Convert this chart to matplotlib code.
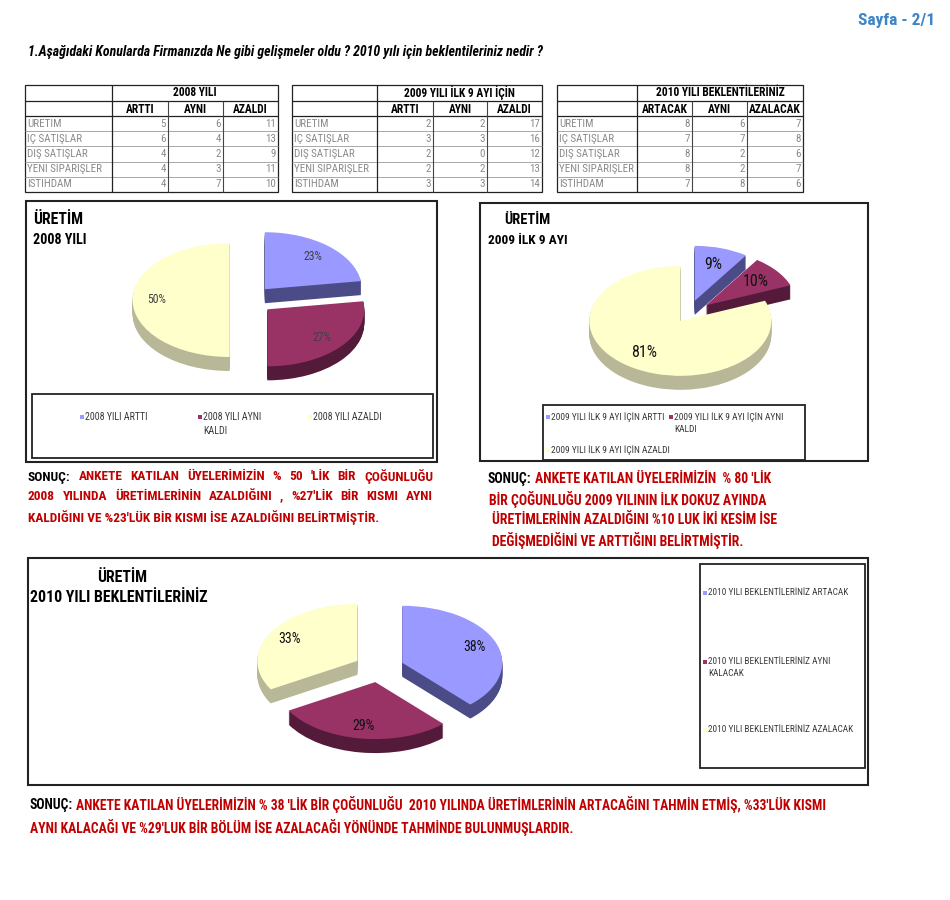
import numpy as np
import matplotlib
matplotlib.use("Agg")
import matplotlib.pyplot as plt
from matplotlib import font_manager
from matplotlib.patches import Rectangle

topics = ["URETIM", "IÇ SATIŞLAR", "DIŞ SATIŞLAR", "YENI SIPARIŞLER", "ISTIHDAM"]
cols_2008 = ["ARTTI", "AYNI", "AZALDI"]
vals_2008 = [[5, 6, 11], [6, 4, 13], [4, 2, 9], [4, 3, 11], [4, 7, 10]]
cols_2009 = ["ARTTI", "AYNI", "AZALDI"]
vals_2009 = [[2, 2, 17], [3, 3, 16], [2, 0, 12], [2, 2, 13], [3, 3, 14]]
cols_2010 = ["ARTACAK", "AYNI", "AZALACAK"]
vals_2010 = [[8, 6, 7], [7, 7, 8], [8, 2, 6], [8, 2, 7], [7, 8, 6]]

pct_2008 = ["23%", "27%", "50%"]
pct_2009 = ["9%", "10%", "81%"]
pct_2010 = ["38%", "29%", "33%"]

leg_2008 = ["2008 YILI ARTTI", "2008 YILI AYNI\nKALDI", "2008 YILI AZALDI"]
leg_2009 = ["2009 YILI İLK 9 AYI İÇİN ARTTI", "2009 YILI İLK 9 AYI İÇİN AYNI\nKALDI",
            "2009 YILI İLK 9 AYI İÇİN AZALDI"]
leg_2010 = ["2010 YILI BEKLENTİLERİNİZ ARTACAK", "2010 YILI BEKLENTİLERİNİZ AYNI\nKALACAK",
            "2010 YILI BEKLENTİLERİNİZ AZALACAK"]

top_colors = ["#9999ff", "#993366", "#ffffcc"]
side_colors = ["#4b4b88", "#531a3a", "#b8b898"]
RED = "#c00000"

# pick a narrow sans if one is installed
entries = font_manager.fontManager.ttflist
names = {f.name for f in entries}
FONT, STRETCH = "Liberation Sans", "normal"
for cand in ["Liberation Sans Narrow", "Arial Narrow", "Roboto Condensed",
             "Noto Sans Condensed", "Open Sans Condensed", "Noto Sans SemiCondensed"]:
    if cand in names:
        FONT = cand
        break
else:
    for fam in ["Noto Sans", "Roboto", "Open Sans", "Liberation Sans"]:
        st = [f for f in entries if f.name == fam and f.stretch in ("condensed", "extra-condensed")
              and f.weight in (700, "bold")]
        if st:
            FONT, STRETCH = fam, st[0].stretch
            break
plt.rcParams["font.stretch"] = STRETCH

fig = plt.figure(figsize=(9.5, 9), dpi=100)
page = fig.add_axes([0, 0, 1, 1])
page.set_xlim(0, 950)
page.set_ylim(900, 0)
page.axis("off")
rend = fig.canvas.get_renderer()


def put(x, y, s, size=8, w=None, **kw):
    t = page.text(x, y, s, fontsize=size, family=FONT, stretch=STRETCH, va="center", **kw)
    if w:
        t.set_fontsize(size * w / t.get_window_extent(rend).width)
    return t


def space(size, weight="bold"):
    a = page.text(0, 0, "n n", fontsize=size, family=FONT, stretch=STRETCH, weight=weight)
    b = page.text(0, 0, "nn", fontsize=size, family=FONT, stretch=STRETCH, weight=weight)
    d = a.get_window_extent(rend).width - b.get_window_extent(rend).width
    a.remove()
    b.remove()
    return d


def seg_line(x, y, segs, size, width=None, justify=False):
    if justify:
        parts = [(wd, c) for s, c in segs for wd in s.split()]
    else:
        parts = list(segs)
    ts = [page.text(0, y, s, color=c, fontsize=size, family=FONT, stretch=STRETCH,
                    weight="bold", va="center") for s, c in parts]
    ws = [t.get_window_extent(rend).width for t in ts]
    sp = space(size)
    if width and not justify:
        k = width / (sum(ws) + sp * (len(ws) - 1))
        size *= k
        for t in ts:
            t.set_fontsize(size)
        ws = [w * k for w in ws]
        sp *= k
    if width and justify:
        sp = (width - sum(ws)) / (len(ws) - 1)
    cx = x
    for t, w in zip(ts, ws):
        t.set_x(cx)
        cx += w + sp
    return size


# ---- header ----
put(858, 20, "Sayfa - 2/1", 12, w=77, weight="bold", color="#3d85c6")
put(28, 52, "1.Aşağıdaki Konularda Firmanızda Ne gibi gelişmeler oldu ? 2010 yılı için beklentileriniz nedir ?",
    9, w=514, weight="bold", style="italic")

# ---- tables ----
probe = put(0, 0, "YENI SIPARIŞLER", 7, w=75)
tsize = probe.get_fontsize()
probe.remove()


def draw_table(edges, title, cols, vals):
    y0, y1, y2 = 85, 101, 116
    rh = 15.2
    yb = y2 + rh * len(topics)
    page.add_patch(Rectangle((edges[0], y0), edges[-1] - edges[0], yb - y0,
                             fill=False, ec="#222222", lw=0.9))
    page.hlines([y1, y2], edges[0], edges[-1], color="#222222", lw=0.9)
    page.hlines([y2 + rh * k for k in range(1, len(topics))], edges[0], edges[-1],
                color="#9a9a9a", lw=0.6)
    page.vlines(edges[1], y0, yb, color="#222222", lw=0.9)
    page.vlines(edges[2:-1], y1, yb, color="#444444", lw=0.8)
    page.text((edges[1] + edges[-1]) / 2, (y0 + y1) / 2, title, fontsize=tsize * 1.05,
              family=FONT, stretch=STRETCH, weight="bold", ha="center", va="center")
    for j, c in enumerate(cols):
        page.text((edges[j + 1] + edges[j + 2]) / 2, (y1 + y2) / 2 + 1, c, fontsize=tsize * 1.05,
                  family=FONT, stretch=STRETCH, weight="bold", ha="center", va="center")
    for i, lab in enumerate(topics):
        yc = y2 + rh * (i + 0.5)
        page.text(edges[0] + 2, yc, lab, fontsize=tsize, family=FONT, stretch=STRETCH,
                  color="#8a8a8a", va="center")
        for j, v in enumerate(vals[i]):
            page.text(edges[j + 2] - 2, yc, str(v), fontsize=tsize, family=FONT, stretch=STRETCH,
                      color="#8a8a8a", ha="right", va="center")


draw_table([25, 112, 168, 223, 278], "2008 YILI", cols_2008, vals_2008)
draw_table([292, 377, 433, 487, 542], "2009 YILI İLK 9 AYI İÇİN", cols_2009, vals_2009)
draw_table([557, 637, 692, 747, 803], "2010 YILI BEKLENTİLERİNİZ", cols_2010, vals_2010)


# ---- 3d-looking pies ----
def pie3d(cx, cy, rx, ry, depth, vals, explode, labels, lsize, lcolor, pctd):
    L = 1.7
    ax = fig.add_axes([(cx - L * rx) / 950, 1 - (cy + L * ry) / 900,
                       2 * L * rx / 950, 2 * L * ry / 900])
    d = depth / ry
    for off in np.linspace(-d, -d / depth, int(depth)):
        ax.pie(vals, explode=explode, colors=side_colors, startangle=90, counterclock=False,
               center=(0, off), wedgeprops=dict(linewidth=0))
    it = iter(labels)
    wedges, _, _ = ax.pie(vals, explode=explode, colors=top_colors, startangle=90,
                          counterclock=False, autopct=lambda p: next(it), pctdistance=pctd,
                          wedgeprops=dict(linewidth=0),
                          textprops=dict(fontsize=lsize, color=lcolor, family=FONT,
                                         stretch=STRETCH))
    ax.set_aspect("auto")
    ax.set_xlim(-L, L)
    ax.set_ylim(-L, L)
    ax.axis("off")
    return wedges


def legend_box(box, spots, labels, fit_w):
    page.add_patch(Rectangle((box[0], box[1]), box[2] - box[0], box[3] - box[1],
                             fill=False, ec="#222222", lw=1.3))
    probe = put(0, 0, labels[0].split("\n")[0], 7, w=fit_w)
    size = probe.get_fontsize()
    probe.remove()
    for (x, y), lab, col in zip(spots, labels, top_colors):
        page.add_patch(Rectangle((x - 2, y - 2.5), 4, 4, color=col, lw=0))
        page.text(x + 3, y - 5, lab, fontsize=size, family=FONT, stretch=STRETCH,
                  color="#3a3a3a", va="top", linespacing=1.45)


# chart 1
page.add_patch(Rectangle((26, 201), 411, 261, fill=False, ec="#222222", lw=1.5))
put(33, 220, "ÜRETİM", 10, w=50, weight="bold")
put(33, 240, "2008 YILI", 10, w=54, weight="bold")
pie3d(249, 300, 97, 57, 14, vals_2008[0], [0.25, 0.25, 0.2], pct_2008, 8.5, "#404040", 0.75)
legend_box((32, 394, 433, 458), [(82, 417), (200, 417), (310, 417)], leg_2008, 63)

# chart 2
page.add_patch(Rectangle((480, 203), 388, 258, fill=False, ec="#222222", lw=1.5))
put(504, 220, "ÜRETİM", 10, w=46, weight="bold")
put(488, 240, "2009 İLK 9 AYI", 10, w=79, weight="bold")
pie3d(688, 314, 91, 55, 14, vals_2009[0], [0.25, 0.25, 0.15], pct_2009, 11.5, "#111111", 0.7)
legend_box((543, 405, 805, 460), [(548, 417), (671, 417), (548, 450)], leg_2009, 114)

# chart 3
page.add_patch(Rectangle((28, 558), 840, 227, fill=False, ec="#222222", lw=1.5))
put(97, 577, "ÜRETİM", 10, w=50, weight="bold")
put(30, 597, "2010 YILI BEKLENTİLERİNİZ", 10, w=178, weight="bold")
pie3d(379, 668, 100, 57, 14, vals_2010[0], [0.25, 0.25, 0.25], pct_2010, 10, "#111111", 0.78)
legend_box((700, 564, 865, 768), [(705, 593), (705, 662), (705, 730)], leg_2010, 140)

# ---- conclusions ----
s1 = seg_line(28, 518, [("KALDIĞINI VE %23'LÜK BİR KISMI İSE AZALDIĞINI BELİRTMİŞTİR.", RED)],
              9, width=350)
seg_line(28, 477, [("SONUÇ:", "black"), ("ANKETE KATILAN ÜYELERİMİZİN % 50 'LİK BİR ÇOĞUNLUĞU", RED)],
         s1, width=405, justify=True)
seg_line(28, 497, [("2008 YILINDA ÜRETİMLERİNİN AZALDIĞINI , %27'LİK BİR KISMI AYNI", RED)],
         s1, width=405, justify=True)

s2 = seg_line(488, 479, [("SONUÇ:", "black"), ("ANKETE KATILAN ÜYELERİMİZİN  % 80 'LİK", RED)],
              9, width=284)
seg_line(489, 500, [("BİR ÇOĞUNLUĞU 2009 YILININ İLK DOKUZ AYINDA", RED)], s2)
seg_line(492, 520, [("ÜRETİMLERİNİN AZALDIĞINI %10 LUK İKİ KESİM İSE", RED)], s2)
seg_line(492, 541, [("DEĞİŞMEDİĞİNİ VE ARTTIĞINI BELİRTMİŞTİR.", RED)], s2)

s3 = seg_line(30, 805, [("SONUÇ:", "black"),
                        ("ANKETE KATILAN ÜYELERİMİZİN % 38 'LİK BİR ÇOĞUNLUĞU  2010 YILINDA ÜRETİMLERİNİN "
                         "ARTACAĞINI TAHMİN ETMİŞ, %33'LÜK KISMI", RED)], 8, width=796)
seg_line(30, 828, [("AYNI KALACAĞI VE %29'LUK BİR BÖLÜM İSE AZALACAĞI YÖNÜNDE TAHMİNDE BULUNMUŞLARDIR.", RED)], s3)

fig.savefig("out.png", dpi=100)
